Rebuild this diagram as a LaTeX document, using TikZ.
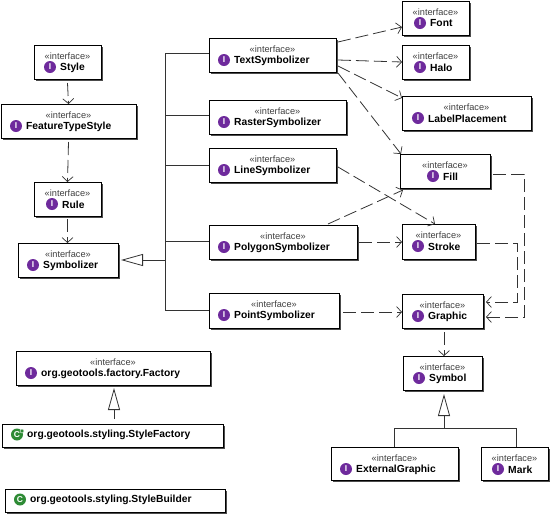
\documentclass[tikz,border=0pt]{standalone}
\usepackage{fontspec}
\setmainfont{Liberation Sans}
\usetikzlibrary{arrows.meta,shadows}
\definecolor{ifacecol}{HTML}{6E2A9C}
\definecolor{classcol}{HTML}{2E8B35}
\definecolor{linecol}{HTML}{333333}
\tikzset{
  umlbox/.style={draw=black,line width=1pt,fill=white,inner sep=0pt,outer sep=0pt,
    drop shadow={shadow xshift=2pt,shadow yshift=-2pt,fill=black,opacity=.7}},
  stereo/.style={font=\fontsize{9.2}{10}\selectfont,text=black!75,inner sep=0pt},
  tname/.style={font=\fontsize{10.3}{11}\selectfont\bfseries,text=black,anchor=west,inner sep=0pt},
  iicon/.style={circle,fill=ifacecol,text=white,inner sep=0pt,minimum size=12pt,font=\fontsize{8.5}{8}\selectfont\bfseries},
  cicon/.style={circle,fill=classcol,text=white,inner sep=0pt,minimum size=12pt,font=\fontsize{8.5}{8}\selectfont\bfseries},
  cmark/.style={circle,fill=classcol,draw=white,line width=0.4pt,inner sep=0pt,minimum size=4pt},
  dep/.style={draw=linecol,line width=0.8pt,dash pattern=on 13pt off 5pt,-{Straight Barb[length=5pt,width=11pt,line width=0.7pt,sep=0pt]}},
  solidline/.style={draw=linecol,line width=0.8pt},
  gen/.style={draw=linecol,line width=0.8pt,-{Triangle[open,length=22pt,width=12pt,line width=0.8pt]}}
}
% name, x1, y1, x2, y2, icon x, label
\newcommand{\ifacebox}[7]{%
  \node[umlbox,minimum width={(#4-#2)*1pt},minimum height={(#5-#3)*1pt}] (#1) at ({(#2+#4)/2},{(#3+#5)/2}) {};
  \node[stereo] (#1-s) at ({(#2+#4)/2},{#3+11}) {«interface»};
  \node[iicon] (#1-i) at (#6,{#3+22}) {I};
  \node[tname] (#1-t) at ({#6+10},{#3+22.5}) {#7};
}
% name, x1, y1, x2, y2, icon x, label, icon text
\newcommand{\classbox}[8]{%
  \node[umlbox,minimum width={(#4-#2)*1pt},minimum height={(#5-#3)*1pt}] (#1) at ({(#2+#4)/2},{(#3+#5)/2}) {};
  \node[cicon] (#1-i) at (#6,{(#3+#5)/2-1}) {#8};
  \node[tname] (#1-t) at ({#6+10},{(#3+#5)/2-0.5}) {#7};
}
\begin{document}
\begin{tikzpicture}[x=1pt,y=-1pt]
\useasboundingbox (0,0) rectangle (550,515);
\ifacebox{Style}{34}{45}{101}{79}{50}{Style}
\ifacebox{FTS}{1}{104}{136}{138}{16}{FeatureTypeStyle}
\ifacebox{Rule}{34}{182}{101}{216}{52}{Rule}
\ifacebox{Symbolizer}{18}{243}{118}{277}{33}{Symbolizer}
\ifacebox{TextSym}{209}{38}{336}{72}{224}{TextSymbolizer}
\ifacebox{RasterSym}{209}{100}{346}{134}{224}{RasterSymbolizer}
\ifacebox{LineSym}{209}{148}{336}{182}{224}{LineSymbolizer}
\ifacebox{PolySym}{209}{225}{357}{259}{224}{PolygonSymbolizer}
\ifacebox{PointSym}{209}{293}{339}{328}{224}{PointSymbolizer}
\ifacebox{Font}{402}{1}{469}{35}{420}{Font}
\ifacebox{Halo}{402}{45}{469}{79}{420}{Halo}
\ifacebox{Label}{402}{96}{531}{130}{418}{LabelPlacement}
\ifacebox{Fill}{400}{154}{490}{188}{433}{Fill}
\ifacebox{Stroke}{402}{224}{475}{259}{418}{Stroke}
\ifacebox{Graphic}{402}{294}{483}{328}{418}{Graphic}
\ifacebox{Symbol}{403}{356}{482}{390}{419}{Symbol}
\ifacebox{ExtGraphic}{331}{447}{458}{480}{346}{ExternalGraphic}
\ifacebox{Mark}{481}{447}{548}{480}{498}{Mark}
\ifacebox{Factory}{16}{351}{210}{385}{31}{org.geotools.factory.Factory}
\classbox{SFactory}{2}{424}{223}{447}{17}{org.geotools.styling.StyleFactory}{C}
\node[cmark] (SFactory-m) at (22,431) {};
\classbox{SBuilder}{5}{489}{225}{512}{20}{org.geotools.styling.StyleBuilder}{C}
% dependencies
\draw[dep] ([yshift=-4pt]Style.south) -- (FTS.north);
\draw[dep] ([yshift=-4pt]FTS.south) -- (Rule.north);
\draw[dep] ([yshift=-3pt]Rule.south) -- (Symbolizer.north -| Rule.north);
\draw[dep] ([xshift=2pt,yshift=13pt]TextSym.east) -- ([yshift=-9pt]Font.west);
\draw[dep] ([xshift=2pt,yshift=-5pt]TextSym.east) -- (Halo.west);
\draw[dep] ([xshift=2pt,yshift=-11pt]TextSym.east) -- ([yshift=15pt]Label.west);
\draw[dep] ([xshift=2pt,yshift=-18pt]TextSym.east) -- ([xshift=1pt]Fill.north west);
\draw[dep] ([xshift=2pt,yshift=-2pt]LineSym.east) -- ([xshift=-3.5pt]Stroke.north);
\draw[dep] ([xshift=-29pt,yshift=1pt]PolySym.north east) -- ([xshift=3pt,yshift=-2pt]Fill.south west);
\draw[dep] ([xshift=2pt]PolySym.east) -- ([yshift=-0.5pt]Stroke.west);
\draw[dep] ([xshift=4pt,yshift=-1.5pt]PointSym.east) -- ([yshift=-1pt]Graphic.west);
\draw[dep] ([xshift=1.5pt,yshift=-4pt]Graphic.south) -- ([xshift=1.5pt]Symbol.north);
\draw[dep] ([xshift=3pt,yshift=-3pt]Fill.east) -- ++(31,0) |- ([xshift=3pt,yshift=-6pt]Graphic.east);
\draw[dep] ([xshift=2pt,yshift=-1.5pt]Stroke.east) -- ++(40,0) |- ([xshift=3pt,yshift=9pt]Graphic.east);
% generalization trees
\coordinate (hub) at (165,260);
\draw[gen] (hub) -- ([xshift=3pt]Symbolizer.east);
\draw[solidline] ([yshift=2pt]TextSym.west) -| (hub);
\draw[solidline] ([yshift=2pt]RasterSym.west) -- ++(-44,0);
\draw[solidline] (LineSym.west) -- ++(-44,0);
\draw[solidline] ([yshift=1pt]PolySym.west) -- ++(-44,0);
\draw[solidline] (PointSym.west) -| (hub);
\coordinate (symhub) at (444,428);
\draw[gen] (symhub) -- ([xshift=1.5pt,yshift=-4pt]Symbol.south);
\draw[solidline] ([xshift=-0.5pt]ExtGraphic.north) |- (symhub);
\draw[solidline] ([xshift=1.5pt]Mark.north) |- (symhub);
\draw[gen] ([xshift=1.5pt,yshift=5pt]SFactory.north) -- ([xshift=1pt,yshift=-3pt]Factory.south);
\end{tikzpicture}
\end{document}
